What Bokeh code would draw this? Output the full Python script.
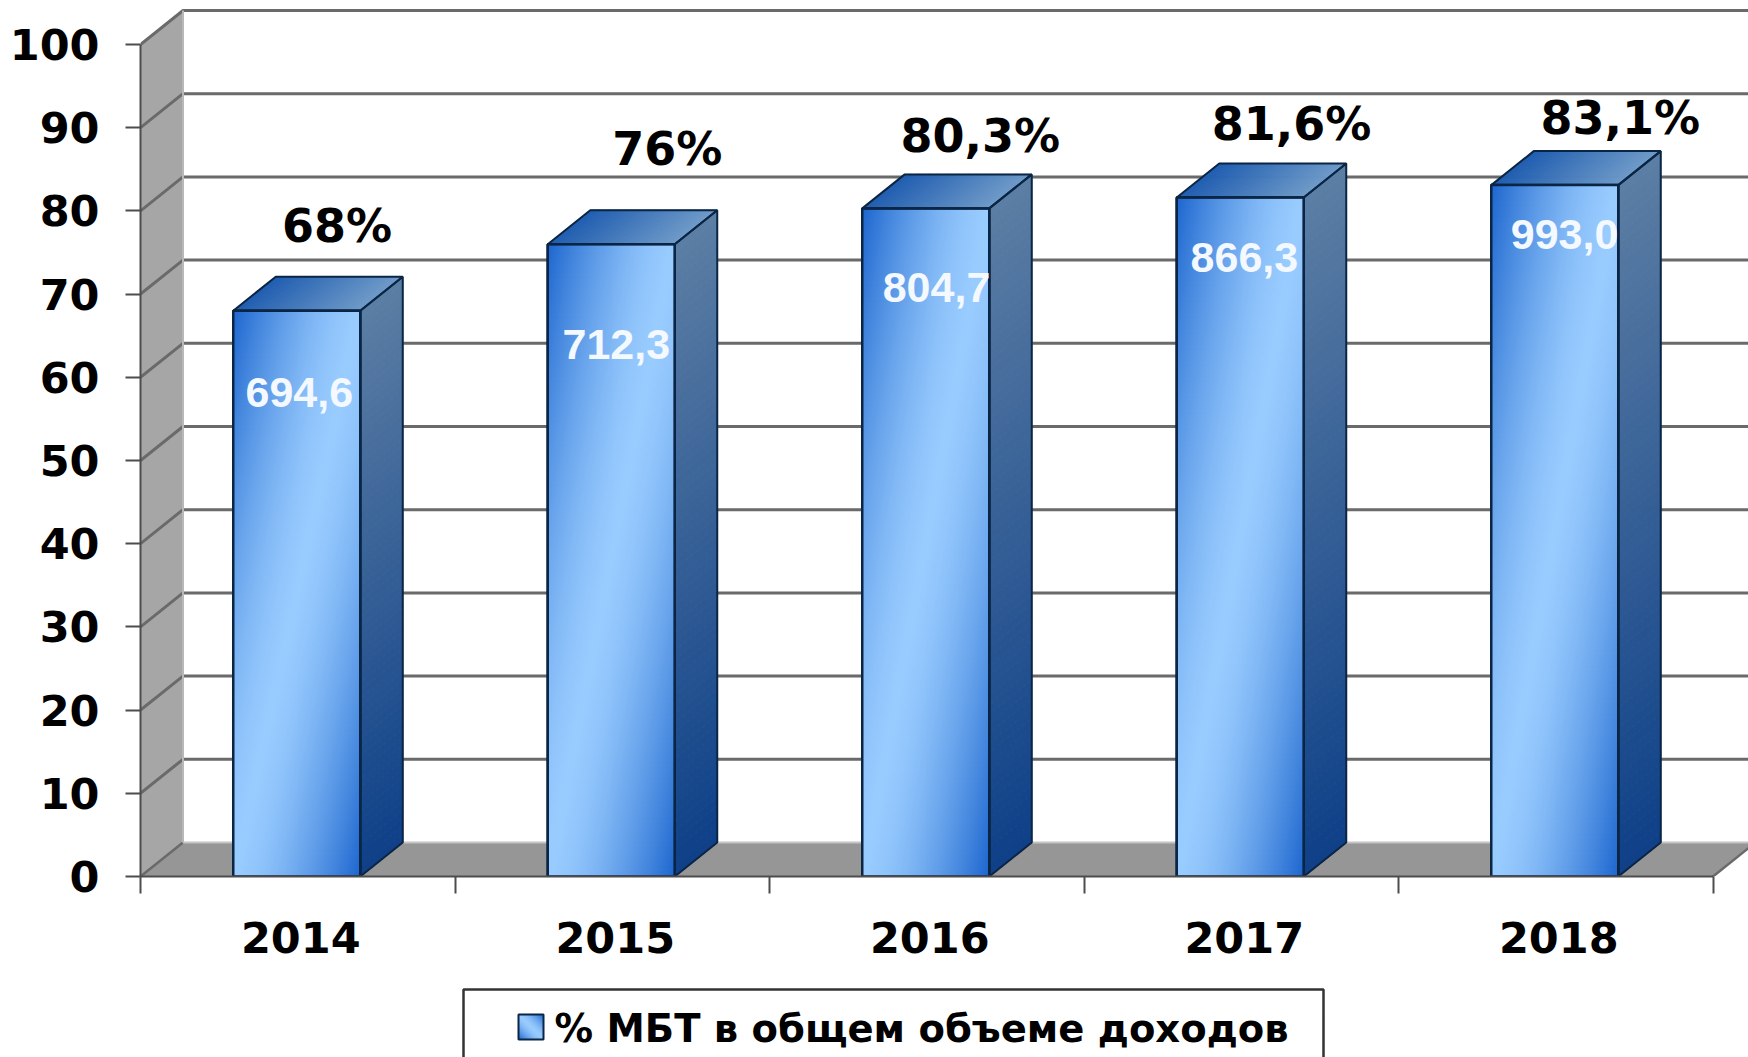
import numpy as np
from bokeh.core.properties import value
from bokeh.embed import file_html
from bokeh.layouts import column
from bokeh.models import FixedTicker, LinearAxis, Range1d
from bokeh.plotting import figure
from bokeh.resources import INLINE

# ---- data
YEARS = ["2014", "2015", "2016", "2017", "2018"]
SHARE_PCT = [68, 76, 80.3, 81.6, 83.1]
SHARE_LABELS = ["68%", "76%", "80,3%", "81,6%", "83,1%"]
MBT_LABELS = ["694,6", "712,3", "804,7", "866,3", "993,0"]
Y_TICKS = [0, 10, 20, 30, 40, 50, 60, 70, 80, 90, 100]
LEGEND_TEXT = "% МБТ в общем объеме доходов"

# ---- label placement (hand placed in the original)
SHARE_LABEL_X = [0.625, 1.675, 2.67, 3.66, 4.705]
SHARE_LABEL_Y = [78.15, 87.5, 89.0, 90.4, 91.2]
MBT_LABEL_X = [0.505, 1.513, 2.531, 3.51, 4.528]
MBT_LABEL_Y = [58.2, 64.0, 70.8, 74.4, 77.2]

# ---- layout
W, H = 1748, 975
LEGEND_H = 82
LEFT, BOTTOM_PX = 140, 876
PX_X, PX_Y = 314.5, 8.32
DX, DY = 42.5 / PX_X, 34 / PX_Y
BAR_W = 127 / PX_X
BAR_SHIFT = -1 / PX_X
LABEL_SHIFT = 3 / PX_X
N_CATS = len(YEARS)
XMAX = (W - LEFT) / PX_X
YMAX = BOTTOM_PX / PX_Y

DARK = np.array([31, 104, 208])
LIGHT = np.array([153, 204, 255])
SIDE_TOP = np.array([92, 126, 164])
SIDE_BOT = np.array([14, 64, 136])
CAP_L = np.array([30, 92, 176])
CAP_R = np.array([110, 154, 200])
EDGE = "#0b2545"
GRID = "#6a6a6a"
AXIS = "#4d4d4d"


def hexc(c):
    return "#%02x%02x%02x" % tuple(int(round(v)) for v in c)


def front_image():
    rows, cols = 128, 64
    out = np.zeros((rows, cols), dtype=np.uint32)
    view = out.view(dtype=np.uint8).reshape((rows, cols, 4))
    for r in range(rows):
        v = 1 - r / (rows - 1)
        for c in range(cols):
            u = c / (cols - 1)
            s = 1 - abs((u + v) - 1)
            t = 1 - (1 - s) ** 1.5
            view[r, c, :3] = DARK + (LIGHT - DARK) * t
            view[r, c, 3] = 255
    return out


p = figure(width=W, height=H, output_backend="svg", toolbar_location=None,
           x_range=Range1d(0, XMAX), y_range=Range1d(0, YMAX),
           x_axis_type=None, y_axis_type=None,
           min_border_left=LEFT, min_border_right=0, min_border_top=0,
           min_border_bottom=H - BOTTOM_PX)
p.outline_line_color = None
p.grid.visible = False
p.background_fill_color = "white"

# walls and floor
p.patch([0, DX, DX, 0], [0, DY, 100 + DY, 100], fill_color="#a6a6a6", line_color=None)
p.patch([0, DX, N_CATS + DX, N_CATS], [0, DY, DY, 0], fill_color="#969696", line_color=None)
p.multi_line([[0, DX, XMAX + 1] for _ in Y_TICKS[1:]],
             [[v, v + DY, v + DY] for v in Y_TICKS[1:]],
             line_color=GRID, line_width=3)
p.line([0, DX], [0, DY], line_color=GRID, line_width=2.5)
p.line([N_CATS, N_CATS + DX], [0, DY], line_color=GRID, line_width=2.5)
p.line([DX, XMAX + 1], [DY, DY], line_color="#c4c4c4", line_width=2)
p.line([DX, DX], [DY, 100 + DY], line_color="#b8b8b8", line_width=2)

centers = [i + 0.5 + BAR_SHIFT for i in range(N_CATS)]
lefts = [c - BAR_W / 2 for c in centers]
rights = [c + BAR_W / 2 for c in centers]

# side and top faces, as thin strips to carry the gradient
xs, ys, cols = [], [], []
STRIPS = 70
for xr, val in zip(rights, SHARE_PCT):
    for k in range(STRIPS):
        a, b = val * k / STRIPS, val * (k + 1) / STRIPS
        xs.append([xr, xr + DX, xr + DX, xr])
        ys.append([a, a + DY, b + DY, b])
        cols.append(hexc(SIDE_BOT + (SIDE_TOP - SIDE_BOT) * (k + 0.5) / STRIPS))
for xl, val in zip(lefts, SHARE_PCT):
    for k in range(STRIPS):
        a, b = xl + BAR_W * k / STRIPS, xl + BAR_W * (k + 1) / STRIPS
        xs.append([a, b, b + DX, a + DX])
        ys.append([val, val, val + DY, val + DY])
        cols.append(hexc(CAP_L + (CAP_R - CAP_L) * (k + 0.5) / STRIPS))
p.patches(xs, ys, fill_color=cols, line_color=cols, line_width=1)

# front faces
p.vbar(x=centers, width=BAR_W, top=SHARE_PCT, bottom=0,
       fill_color="#6ba6ea", line_color=EDGE, line_width=2.5)
img = front_image()
p.image_rgba(image=[img] * N_CATS, x=lefts, y=[0] * N_CATS,
             dw=[BAR_W] * N_CATS, dh=SHARE_PCT)

# outlines over the gradient
p.vbar(x=centers, width=BAR_W, top=SHARE_PCT, bottom=0,
       fill_color=None, line_color=EDGE, line_width=2.5)
p.patches([[xr, xr + DX, xr + DX, xr] for xr in rights],
          [[0, DY, val + DY, val] for val in SHARE_PCT],
          fill_color=None, line_color=EDGE, line_width=2)
p.patches([[xl, xl + BAR_W, xl + BAR_W + DX, xl + DX] for xl in lefts],
          [[val, val, val + DY, val + DY] for val in SHARE_PCT],
          fill_color=None, line_color=EDGE, line_width=2)

# labels
p.text(SHARE_LABEL_X, SHARE_LABEL_Y, text=SHARE_LABELS, text_align="center",
       text_baseline="middle", text_color="black", text_font=value("DejaVu Sans"),
       text_font_style="bold", text_font_size="46px")
p.text(MBT_LABEL_X, MBT_LABEL_Y, text=MBT_LABELS, text_align="center",
       text_baseline="middle", text_color="#f4f8ff", text_font=value("Liberation Sans"),
       text_font_style="bold", text_font_size="43px")

# axes
yax = LinearAxis(ticker=FixedTicker(ticks=Y_TICKS), bounds=(0, 100))
yax.axis_line_color = AXIS
yax.axis_line_width = 2
yax.major_tick_line_color = AXIS
yax.major_tick_line_width = 2
yax.major_tick_in = 0
yax.major_tick_out = 15
yax.minor_tick_line_color = None
yax.major_label_standoff = 26
yax.major_label_text_font = "DejaVu Sans"
yax.major_label_text_font_style = "bold"
yax.major_label_text_font_size = "43px"
yax.major_label_text_color = "black"
p.add_layout(yax, "left")

label_ticks = [i + 0.5 + LABEL_SHIFT for i in range(N_CATS)]
xax = LinearAxis(ticker=FixedTicker(ticks=label_ticks, minor_ticks=list(range(N_CATS + 1))),
                 bounds=(0, N_CATS))
xax.major_label_overrides = {c: y for c, y in zip(label_ticks, YEARS)}
xax.axis_line_color = AXIS
xax.axis_line_width = 2
xax.major_tick_line_color = None
xax.major_tick_in = 0
xax.major_tick_out = 17
xax.minor_tick_line_color = AXIS
xax.minor_tick_line_width = 2
xax.minor_tick_in = 0
xax.minor_tick_out = 17
xax.major_label_standoff = 28
xax.major_label_text_font = "DejaVu Sans"
xax.major_label_text_font_style = "bold"
xax.major_label_text_font_size = "43px"
xax.major_label_text_color = "black"
p.add_layout(xax, "below")

# legend strip: the box runs off the bottom of the page as in the original
q = figure(width=W, height=LEGEND_H, output_backend="svg", toolbar_location=None,
           x_range=Range1d(LEFT, W), y_range=Range1d(LEGEND_H, 0),
           x_axis_type=None, y_axis_type=None,
           min_border_left=LEFT, min_border_right=0, min_border_top=0, min_border_bottom=0)
q.outline_line_color = None
q.grid.visible = False
q.line([463, 463, 1323, 1323], [LEGEND_H + 5, 14, 14, LEGEND_H + 5],
       line_color="#333333", line_width=2.5)
q.image_rgba(image=[front_image()], x=[518], y=[39], dw=[25], dh=[25])
q.quad(left=[518], right=[543], top=[39], bottom=[64], fill_color=None,
       line_color=EDGE, line_width=2)
q.text([554], [53], text=[LEGEND_TEXT], text_align="left", text_baseline="middle",
       text_color="black", text_font=value("DejaVu Sans"), text_font_style="bold",
       text_font_size="38.5px")

page = column(p, q, spacing=0)
open("out.html", "w").write(file_html(page, INLINE))
